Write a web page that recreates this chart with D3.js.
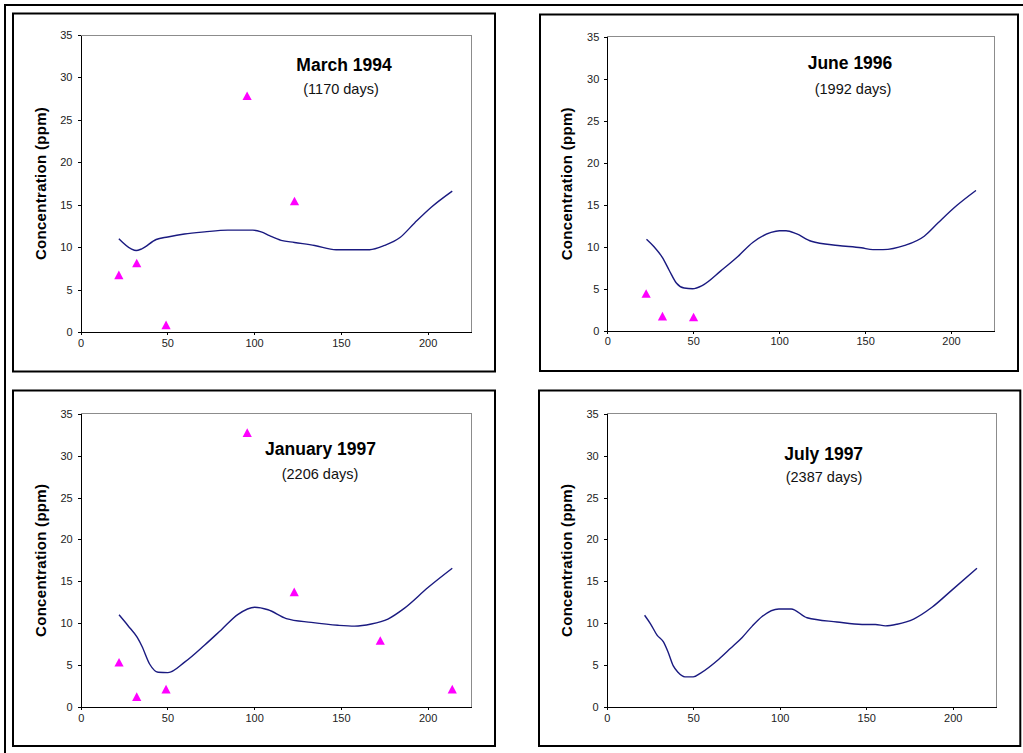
<!DOCTYPE html>
<html>
<head>
<meta charset="utf-8">
<script src="https://cdn.jsdelivr.net/npm/d3@7"></script>
<style>
  body { margin: 0; background: #fff; }
  svg { display: block; }
  .tick text { font-family: "Liberation Sans", Arial, sans-serif; font-size: 11px; fill: #222; }
  .axis path, .axis line { stroke: #000; shape-rendering: crispEdges; }
</style>
</head>
<body>
<div id="chart"></div>
<script>
// ---- data ----
const xTicks = [0, 50, 100, 150, 200]
const yTicks = [0, 5, 10, 15, 20, 25, 30, 35]
const yLabel = 'Concentration (ppm)'

const titles = ['March 1994', 'June 1996', 'January 1997', 'July 1997']
const subtitles = ['(1170 days)', '(1992 days)', '(2206 days)', '(2387 days)']

// modelled profile (line) and measured values (triangles), per survey
const mar94LineX = [22.1, 29.2, 32.1, 35.3, 43.6, 50.3, 59.9, 71.5, 84.9, 99.3, 104.1, 108.9, 115.6, 123.3, 134.9, 147.3, 166.6, 175.2, 183.9, 192.5, 202.1, 214.2]
const mar94LineY = [11.0, 9.8, 9.6, 9.8, 10.9, 11.2, 11.55, 11.8, 12.0, 12.0, 11.8, 11.35, 10.8, 10.55, 10.2, 9.7, 9.7, 10.2, 11.1, 12.85, 14.7, 16.6]
const mar94ObsX = [22.1, 32.4, 49.3, 96.0, 123.3]
const mar94ObsY = [6.7, 8.1, 0.8, 27.8, 15.4]

const jun96LineX = [22.8, 27.2, 32.1, 36.0, 40.3, 44.7, 49.6, 55.4, 66.2, 75.8, 84.6, 95.3, 100.2, 104.0, 109.9, 118.7, 134.2, 147.8, 154.6, 160.4, 173.1, 184.4, 192.5, 203.3, 214.5]
const jun96LineY = [10.9, 10.0, 8.7, 7.2, 5.65, 5.08, 5.0, 5.4, 7.15, 8.8, 10.5, 11.7, 11.9, 11.9, 11.55, 10.65, 10.15, 9.88, 9.65, 9.65, 10.15, 11.25, 12.85, 14.9, 16.7]
const jun96ObsX = [22.6, 32.1, 50.2]
const jun96ObsY = [4.4, 1.7, 1.6]

const jan97LineX = [22.1, 27.3, 32.6, 35.3, 39.8, 44.6, 50.3, 59.9, 71.5, 81.0, 90.7, 100.3, 108.0, 118.5, 132.9, 148.3, 157.9, 167.5, 177.1, 186.7, 200.2, 214.2]
const jan97LineY = [11.0, 9.7, 8.3, 7.25, 5.1, 4.15, 4.1, 5.35, 7.4, 9.2, 11.05, 11.9, 11.6, 10.55, 10.1, 9.75, 9.65, 9.9, 10.5, 11.8, 14.25, 16.55]
const jan97ObsX = [22.1, 32.3, 49.2, 96.0, 123.1, 172.7, 214.2]
const jan97ObsY = [5.3, 1.2, 2.1, 32.7, 13.7, 7.9, 2.1]

const jul97LineX = [21.9, 25.4, 29.2, 32.7, 35.4, 38.5, 41.2, 45.2, 50.0, 54.3, 64.8, 71.6, 78.3, 84.1, 89.8, 99.5, 106.6, 115.8, 133.1, 147.6, 155.3, 161.1, 167.8, 177.4, 188.0, 199.5, 214.0]
const jul97LineY = [10.95, 9.9, 8.55, 7.8, 6.6, 4.9, 4.15, 3.6, 3.6, 4.05, 5.7, 7.0, 8.3, 9.65, 10.8, 11.7, 11.7, 10.65, 10.15, 9.85, 9.85, 9.68, 9.88, 10.5, 11.9, 13.95, 16.55]
const jul97ObsX = []
const jul97ObsY = []

// ---- layout ----
const W = 1023, H = 753
const panels = [
  { box: [13, 13.5, 495, 371.5], plot: [80.5, 35, 471, 332], ylab: 41, title: [344, 71], sub: [341, 93.5],
    lx: mar94LineX, ly: mar94LineY, ox: mar94ObsX, oy: mar94ObsY },
  { box: [540, 14.5, 1018, 371], plot: [607.3, 36.7, 994, 330.7], ylab: 567, title: [850, 69], sub: [853, 93.5],
    lx: jun96LineX, ly: jun96LineY, ox: jun96ObsX, oy: jun96ObsY },
  { box: [13, 390.5, 495, 746], plot: [80.7, 413.7, 471, 707], ylab: 41, title: [320.5, 455], sub: [320, 479],
    lx: jan97LineX, ly: jan97LineY, ox: jan97ObsX, oy: jan97ObsY },
  { box: [539, 390.5, 1020.3, 746], plot: [606.7, 413.7, 996, 707], ylab: 567, title: [823.7, 460], sub: [824, 482],
    lx: jul97LineX, ly: jul97LineY, ox: jul97ObsX, oy: jul97ObsY }
]

const svg = d3.select('#chart').append('svg')
  .attr('width', W)
  .attr('height', H)

// outer frame (top + left edges only)
svg.append('path')
  .attr('d', `M5,${H} L5,5 L${W},5`)
  .attr('fill', 'none')
  .attr('stroke', '#000')
  .attr('stroke-width', 2)

const tri = 'M0,-4.6 L4.6,4 L-4.6,4 Z'

panels.forEach((p, i) => {
  let [bx0, by0, bx1, by1] = p.box
  let [px0, py0, px1, py1] = p.plot

  svg.append('rect')
    .attr('x', bx0).attr('y', by0)
    .attr('width', bx1 - bx0).attr('height', by1 - by0)
    .attr('fill', '#fff')
    .attr('stroke', '#000')
    .attr('stroke-width', 2)

  let x = d3.scaleLinear().domain([0, 225]).range([px0, px1])
  let y = d3.scaleLinear().domain([0, 35]).range([py1, py0])

  // plot frame: grey top / right
  svg.append('path')
    .attr('d', `M${px0},${py0} L${px1},${py0} L${px1},${py1}`)
    .attr('fill', 'none')
    .attr('stroke', '#8c8c8c')
    .attr('stroke-width', 1)
    .attr('shape-rendering', 'crispEdges')

  svg.append('g')
    .attr('class', 'axis')
    .attr('transform', `translate(0,${py1})`)
    .call(d3.axisBottom(x).tickValues(xTicks).tickSize(3).tickSizeOuter(0).tickPadding(4))

  svg.append('g')
    .attr('class', 'axis')
    .attr('transform', `translate(${px0},0)`)
    .call(d3.axisLeft(y).tickValues(yTicks).tickSize(3).tickSizeOuter(0).tickPadding(5))

  svg.append('text')
    .attr('transform', `translate(${p.ylab},${(py0 + py1) / 2}) rotate(-90)`)
    .attr('text-anchor', 'middle')
    .attr('dy', '0.35em')
    .style('font-family', '"Liberation Sans", Arial, sans-serif')
    .style('font-size', '15px')
    .style('font-weight', 'bold')
    .style('letter-spacing', '0.3px')
    .text(yLabel)

  let line = d3.line()
    .x((d) => x(d[0]))
    .y((d) => y(d[1]))
    .curve(d3.curveMonotoneX)

  svg.append('path')
    .datum(d3.zip(p.lx, p.ly))
    .attr('d', line)
    .attr('fill', 'none')
    .attr('stroke', '#1a1a80')
    .attr('stroke-width', 1.4)

  svg.append('g').selectAll('path')
    .data(d3.zip(p.ox, p.oy))
    .enter().append('path')
    .attr('d', tri)
    .attr('transform', (d) => `translate(${x(d[0])},${y(d[1])})`)
    .attr('fill', '#ff00ff')

  svg.append('text')
    .attr('x', p.title[0]).attr('y', p.title[1])
    .attr('text-anchor', 'middle')
    .style('font-family', '"Liberation Sans", Arial, sans-serif')
    .style('font-size', '17.5px')
    .style('font-weight', 'bold')
    .text(titles[i])

  svg.append('text')
    .attr('x', p.sub[0]).attr('y', p.sub[1])
    .attr('text-anchor', 'middle')
    .style('font-family', '"Liberation Sans", Arial, sans-serif')
    .style('font-size', '14.5px')
    .style('fill', '#111')
    .text(subtitles[i])
})
</script>
</body>
</html>
